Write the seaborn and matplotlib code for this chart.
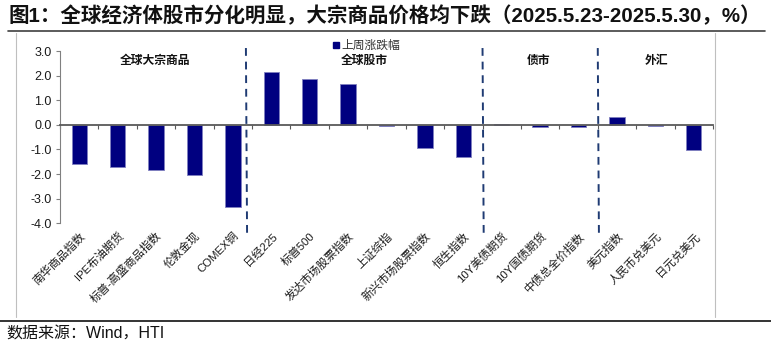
import matplotlib
matplotlib.use("Agg")
import matplotlib.pyplot as plt
from matplotlib.lines import Line2D
import seaborn as sns
import pandas as pd

categories = ["南华商品指数", "IPE布油期货", "标普-高盛商品指数", "伦敦金现", "COMEX铜",
              "日经225", "标普500", "发达市场股票指数", "上证综指", "新兴市场股票指数", "恒生指数",
              "10Y美债期货", "10Y国债期货", "中债总全价指数",
              "美元指数", "人民币兑美元", "日元兑美元"]
weekly_change = [-1.60, -1.72, -1.84, -2.05, -3.34,
                 2.16, 1.85, 1.67, -0.03, -0.93, -1.32,
                 0.02, -0.08, -0.07,
                 0.32, -0.05, -1.04]
series_name = "上周涨跌幅"
group_names = ["全球大宗商品", "全球股市", "债市", "外汇"]
group_centers = [1.97, 7.42, 11.97, 15.02]
divider_positions = [4.34, 10.5, 13.5]
y_ticks = [3.0, 2.0, 1.0, 0.0, -1.0, -2.0, -3.0, -4.0]

sns.set_theme(style="white")
plt.rcParams["font.family"] = ["Liberation Sans", "Noto Sans CJK SC"]
plt.rcParams["axes.unicode_minus"] = False

df = pd.DataFrame({"name": categories, "value": weekly_change})

fig = plt.figure(figsize=(7.71, 3.48), dpi=100)
ax = fig.add_axes([60 / 771, 1 - 223.3 / 348, 653 / 771, 172.3 / 348])

navy = "#000080"
sns.barplot(data=df, x="name", y="value", order=categories, color=navy,
            width=0.4, edgecolor="#8080c0", linewidth=0.6, saturation=1,
            ax=ax)

ax.set_xlim(-0.5, len(categories) - 0.5)
ax.set_ylim(-4.0, 3.0)
ax.set_xlabel("")
ax.set_ylabel("")

# y axis
ax.set_yticks(y_ticks)
ax.set_yticklabels([f"{v:.1f}" for v in y_ticks], fontsize=9, color="#1a1a1a")
ax.tick_params(axis="y", direction="out", length=3, width=0.8, color="#808080", pad=3, left=True)
ax.spines["left"].set_color("#808080")
ax.spines["left"].set_linewidth(0.8)
ax.spines["top"].set_visible(False)
ax.spines["right"].set_visible(False)

# zero axis line with boundary ticks
ax.spines["bottom"].set_position(("data", 0))
ax.spines["bottom"].set_color("#595959")
ax.spines["bottom"].set_linewidth(1.3)
ax.set_xticks(range(len(categories)))
ax.set_xticklabels([])
ax.tick_params(axis="x", which="major", length=0)
ax.set_xticks([i - 0.5 for i in range(len(categories) + 1)], minor=True)
ax.tick_params(axis="x", which="minor", direction="out", length=3, width=0.8,
               color="#595959", bottom=True)

# category labels along the bottom edge
sec = ax.secondary_xaxis(0)
sec.set_xticks(range(len(categories)))
sec.set_xticklabels(categories, rotation=45, ha="right", rotation_mode="anchor",
                    fontsize=8.2, color="#1a1a1a")
sec.tick_params(axis="x", length=0, pad=5)
sec.spines["bottom"].set_visible(False)

# group dividers
for xpos in divider_positions:
    ax.plot([xpos, xpos + 0.03], [3.12, -4.4], linestyle=(0, (4, 3)), color="#1f3b73",
            linewidth=1.4, clip_on=False, zorder=3)

# group headings
for name, xc in zip(group_names, group_centers):
    ax.text(xc, 2.58, name, ha="center", va="center", fontsize=8.5,
            fontweight="bold", color="#111111")

# legend
ax.legend(handles=[Line2D([], [], marker="s", linestyle="", color=navy, markersize=5)],
          labels=[series_name], loc="center left",
          bbox_to_anchor=(331 / 771, 1 - 46 / 348), bbox_transform=fig.transFigure,
          frameon=False, fontsize=8.5, handletextpad=0.1, handlelength=0.8,
          borderpad=0, borderaxespad=0, labelcolor="#333333")

# title, source, frame lines
fig.text(8 / 771, 1 - 16 / 348, "图1：全球经济体股市分化明显，大宗商品价格均下跌（2025.5.23-2025.5.30，%）",
         ha="left", va="center", fontsize=14.8, fontweight="bold", color="#111111")
fig.text(6 / 771, 1 - 334 / 348, "数据来源：Wind，HTI", ha="left", va="center",
         fontsize=11.5, color="#111111")
fig.add_artist(Line2D([8 / 771, 765 / 771], [1 - 31 / 348] * 2, color="#404040", linewidth=1.2))
fig.add_artist(Line2D([0, 1], [1 - 321 / 348] * 2, color="#111111", linewidth=1.2))
fig.add_artist(Line2D([16 / 771] * 2, [1 - 33 / 348, 1 - 317 / 348], color="#bfbfbf", linewidth=0.8))
fig.add_artist(Line2D([715 / 771] * 2, [1 - 33 / 348, 1 - 317 / 348], color="#bfbfbf", linewidth=0.8))

fig.savefig("out.png", dpi=100)
